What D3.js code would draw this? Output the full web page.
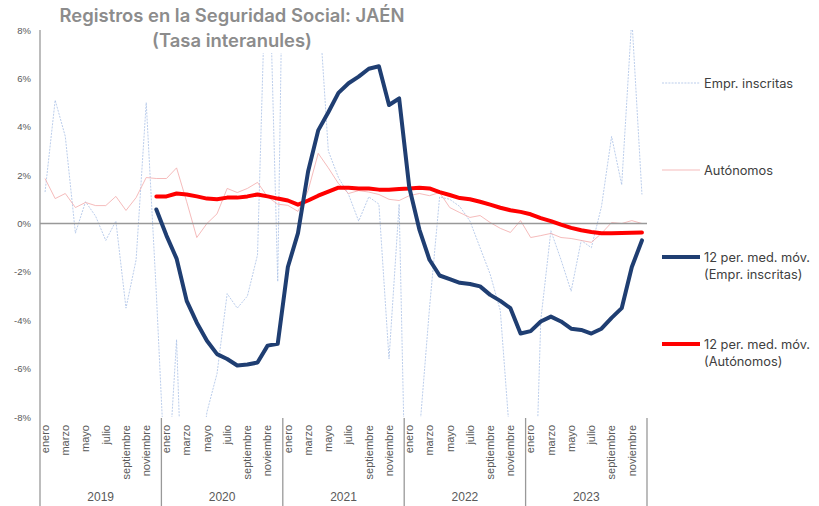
<!DOCTYPE html>
<html><head><meta charset="utf-8">
<script src="https://cdn.jsdelivr.net/npm/d3@7"></script>
<style>body{margin:0;background:#fff;} svg{display:block;font-family:"Liberation Sans",Arial,sans-serif;}</style>
</head><body><svg id="c" width="819" height="506"></svg>
<script>
const years = ["2019","2020","2021","2022","2023"];
const months = ["enero","febrero","marzo","abril","mayo","junio","julio","agosto","septiembre","octubre","noviembre","diciembre"];
const yTicks = [-8,-6,-4,-2,0,2,4,6,8];
const titleLines = ["Registros en la Seguridad Social: JAÉN","(Tasa interanules)"];

// Monthly year-on-year rates (%), Jan 2019 .. Dec 2023
const emprInscritas = [
  1.3, 5.1, 3.6, -0.4, 0.9, 0.3, -0.7, 0.1, -3.5, -1.5, 5.0, -2.9,
  -11.7, -4.8, -17.0, -11.0, -7.8, -6.2, -2.9, -3.5, -3.0, -1.3, 13.4, -2.4,
  26.0, 10.5, 13.0, 9.5, 3.0, 1.9, 1.2, 0.1, 1.1, 0.8, -5.6, 0.8,
  -19.0, -8.7, -3.5, 1.1, 1.0, 0.7, 0.1, -1.0, -2.1, -3.6, -9.2, -11.9,
  -17.8, -4.0, -0.3, -1.5, -2.8, -0.7, -1.0, 0.7, 3.6, 1.6, 8.5, 1.2
];
const autonomos = [
  1.86, 1.03, 1.24, 0.66, 0.87, 0.74, 0.74, 1.12, 0.54, 1.07, 1.9, 1.86,
  1.86, 2.3, 0.9, -0.58, 0.0, 0.4, 1.45, 1.28, 1.45, 1.7, 1.1, 0.8,
  0.75, 0.5, 1.36, 2.9, 2.3, 1.65, 1.24, 1.36, 1.3, 1.2, 1.0, 0.95,
  1.15, 1.24, 1.15, 1.28, 0.66, 0.45, 0.25, 0.33, 0.04, -0.2, -0.37, 0.12,
  -0.58, -0.5, -0.41, -0.58, -0.62, -0.7, -0.78, -0.41, 0.04, 0.0, 0.12, 0.0
];
// 12-period moving averages (start Dec 2019)
const mmEmpr = [null,null,null,null,null,null,null,null,null,null,null,
  0.58,
  -0.5, -1.45, -3.2, -4.1, -4.85, -5.4, -5.6, -5.87, -5.83, -5.75, -5.05, -4.97,
  -1.8, -0.4, 2.15, 3.85, 4.6, 5.4, 5.8, 6.07, 6.4, 6.5, 4.9, 5.17,
  1.5, -0.25, -1.5, -2.15, -2.3, -2.45, -2.5, -2.6, -2.95, -3.2, -3.5, -4.55,
  -4.45, -4.05, -3.85, -4.05, -4.35, -4.4, -4.55, -4.35, -3.9, -3.5, -1.8, -0.7
];
const mmAuto = [null,null,null,null,null,null,null,null,null,null,null,
  1.12,
  1.12, 1.24, 1.2, 1.12, 1.03, 1.0, 1.07, 1.07, 1.12, 1.2, 1.12, 1.03,
  0.95, 0.78, 0.95, 1.15, 1.32, 1.48, 1.48, 1.45, 1.45, 1.4, 1.4, 1.43,
  1.45, 1.48, 1.45, 1.3, 1.18, 1.05, 1.0, 0.9, 0.78, 0.65, 0.55, 0.48,
  0.38, 0.22, 0.1, -0.05, -0.18, -0.28, -0.35, -0.4, -0.4, -0.39, -0.38, -0.37
];
const legendItems = [
  {lines:["Empr. inscritas"], key:"thinBlue"},
  {lines:["Autónomos"], key:"thinRed"},
  {lines:["12 per. med. móv.","(Empr. inscritas)"], key:"mmBlue"},
  {lines:["12 per. med. móv.","(Autónomos)"], key:"mmRed"}
];

const styles = {
  thinBlue:{color:"#a9c0e6", width:0.8, dash:"2,1.2"},
  thinRed:{color:"#f2a9a9", width:0.8, dash:null},
  mmBlue:{color:"#1f3e72", width:4, dash:null},
  mmRed:{color:"#ff0000", width:4, dash:null}
};

const svg = d3.select("#c");
const W = 819, H = 506;
const plot = {left:40, right:647, top:30, bottom:417};
const idx = d3.range(60);
const x = d3.scaleBand().domain(idx).range([plot.left, plot.right]).padding(0);
const y = d3.scaleLinear().domain([-8, 8]).range([plot.bottom, plot.top]);
const cx = i => x(i) + x.bandwidth()/2;

svg.append("rect").attr("width",W).attr("height",H).attr("fill","#fff");

svg.append("defs").append("clipPath").attr("id","clip")
  .append("rect").attr("x",plot.left).attr("y",plot.top)
  .attr("width",plot.right-plot.left).attr("height",plot.bottom-plot.top);

// y labels
const yAxis = d3.axisLeft(y).tickValues(yTicks).tickSize(0).tickPadding(0)
  .tickFormat(d => d + "%");
const gy = svg.append("g").attr("transform",`translate(${plot.left-9},0)`).call(yAxis);
gy.select(".domain").remove();
gy.selectAll("text").attr("font-size",9.5).attr("fill","#595959")
  .attr("font-family","'Liberation Sans',Arial,sans-serif");

// thin series
const lineGen = arr => d3.line().defined((d,i)=>arr[i]!=null).x((d,i)=>cx(i)).y((d)=>y(d));
const gThin = svg.append("g").attr("clip-path","url(#clip)");
gThin.append("path").datum(emprInscritas).attr("d", lineGen(emprInscritas))
  .attr("fill","none").attr("stroke",styles.thinBlue.color).attr("stroke-width",styles.thinBlue.width)
  .attr("stroke-dasharray",styles.thinBlue.dash);
gThin.append("path").datum(autonomos).attr("d", lineGen(autonomos))
  .attr("fill","none").attr("stroke",styles.thinRed.color).attr("stroke-width",styles.thinRed.width);

// title (with white box like Excel)
svg.append("rect").attr("x",56).attr("y",0).attr("width",356).attr("height",53).attr("fill","#fff");
const tt = svg.append("g").selectAll("text").data(titleLines).join("text")
  .attr("x",232).attr("y",(d,i)=>22+i*25).attr("text-anchor","middle")
  .attr("font-family","Inter, 'Open Sans', sans-serif")
  .attr("font-size",17).attr("font-weight",600).attr("fill","#8c8c8c").text(d=>d);
// fit first title line to the reference width
const tw = tt.node().getComputedTextLength();
if (tw > 0) tt.attr("font-size", 17 * 345 / tw);

// zero line
svg.append("line").attr("x1",plot.left).attr("x2",plot.right).attr("y1",y(0)).attr("y2",y(0))
  .attr("stroke","#999").attr("stroke-width",1.3);

// y axis line
svg.append("line").attr("x1",plot.left).attr("x2",plot.left).attr("y1",plot.top).attr("y2",H)
  .attr("stroke","#999").attr("stroke-width",1.3);

// moving averages
svg.append("path").datum(mmAuto).attr("d", lineGen(mmAuto))
  .attr("fill","none").attr("stroke",styles.mmRed.color).attr("stroke-width",styles.mmRed.width)
  .attr("stroke-linejoin","round").attr("stroke-linecap","round");
svg.append("path").datum(mmEmpr).attr("d", lineGen(mmEmpr))
  .attr("fill","none").attr("stroke",styles.mmBlue.color).attr("stroke-width",styles.mmBlue.width)
  .attr("stroke-linejoin","round").attr("stroke-linecap","round");

// x axis: month labels (every other), year separators and labels
const gx = svg.append("g");
gx.selectAll("text.m").data(idx.filter(i => i % 2 === 0)).join("text").attr("class","m")
  .attr("transform", i => `translate(${cx(i)+3.8},425) rotate(-90)`)
  .attr("text-anchor","end").attr("font-size",11).attr("fill","#595959")
  .text(i => months[i % 12]);
gx.selectAll("line.sep").data(d3.range(1, years.length+1)).join("line").attr("class","sep")
  .attr("x1", k => x(k*12 - 1) + x.bandwidth()).attr("x2", k => x(k*12 - 1) + x.bandwidth())
  .attr("y1", 418).attr("y2", H).attr("stroke","#999").attr("stroke-width",1.3);
gx.selectAll("text.y").data(years).join("text").attr("class","y")
  .attr("x",(d,k)=> (x(k*12) + x(k*12+11) + x.bandwidth())/2).attr("y",501)
  .attr("text-anchor","middle").attr("font-size",12).attr("fill","#595959").text(d=>d);

// legend
const legY = [83, 170, 257, 344];
const lg = svg.append("g");
legendItems.forEach((it, k) => {
  const s = styles[it.key];
  lg.append("line").attr("x1",662).attr("x2",700).attr("y1",legY[k]).attr("y2",legY[k])
    .attr("stroke",s.color).attr("stroke-width",s.width).attr("stroke-dasharray",s.dash);
  it.lines.forEach((t, j) => {
    lg.append("text").attr("x",704).attr("y",legY[k] + 4.5 + j*17)
      .attr("font-family","Inter, sans-serif")
      .attr("font-size",12.8).attr("fill","#404040").text(t);
  });
});
</script>
</body></html>
